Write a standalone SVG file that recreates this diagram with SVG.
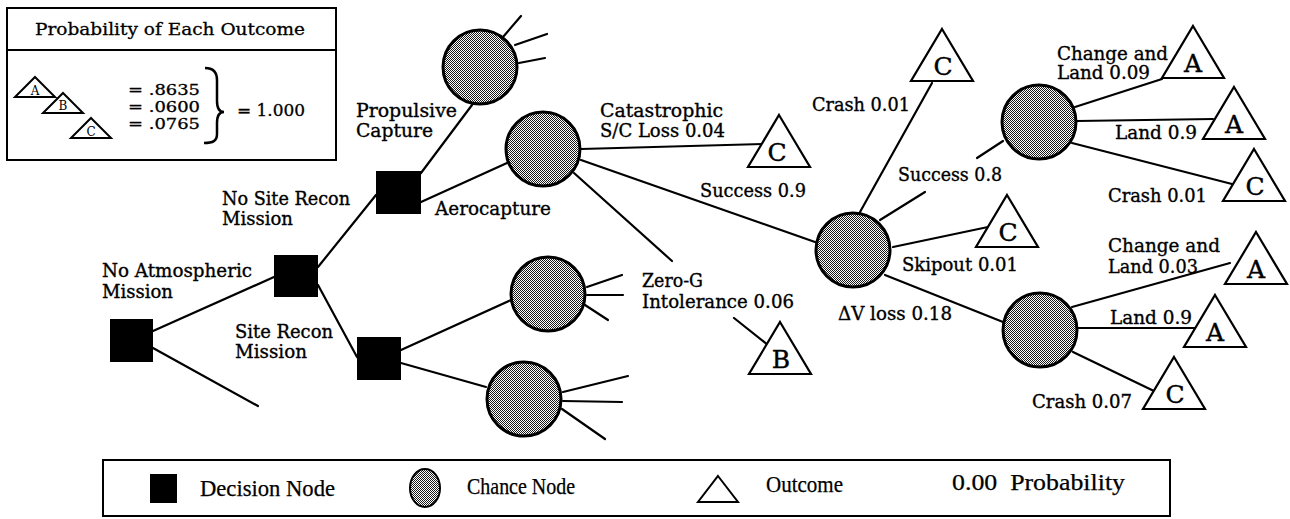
<svg xmlns="http://www.w3.org/2000/svg" width="1290" height="519" viewBox="0 0 1290 519">
  <defs>
    <pattern id="stipple" width="2" height="2" patternUnits="userSpaceOnUse">
      <rect width="2" height="2" fill="#fff"/>
      <rect width="1" height="1" fill="#1a1a1a"/>
      <rect x="1" y="1" width="1" height="1" fill="#1a1a1a"/>
    </pattern>
    <!-- outcome triangle, origin at apex -->
    <path id="tri" d="M0,0 L31,52 L-31,52 Z"/>
    <path id="minitri" d="M0,0 L20,20 L-20,20 Z"/>
  </defs>
  <style>
    .lbl { font-family: "DejaVu Serif", "Liberation Serif", serif; font-size: 18px; fill: #000; stroke: #000; stroke-width: 0.35; }
    .eq { font-family: "DejaVu Serif", "Liberation Serif", serif; font-size: 14.5px; fill: #000; stroke: #000; stroke-width: 0.3; }
    .ttl { font-family: "DejaVu Serif", "Liberation Serif", serif; font-size: 17px; fill: #000; stroke: #000; stroke-width: 0.3; }
    .key { font-family: "Liberation Serif", "DejaVu Serif", serif; font-size: 23px; fill: #000; stroke: #000; stroke-width: 0.25; }
    .tl { font-family: "DejaVu Serif", "Liberation Serif", serif; font-size: 25px; fill: #000; text-anchor: middle; stroke: #000; stroke-width: 0.4; }
    .mtl { font-family: "DejaVu Serif", "Liberation Serif", serif; font-size: 12px; fill: #000; text-anchor: middle; }
    .conn line { stroke: #000; stroke-width: 2.2; stroke-linecap: round; }
    .dec { fill: #000; }
    .chance { fill: url(#stipple); stroke: #000; stroke-width: 3; }
    .outcome { fill: #fff; stroke: #000; stroke-width: 2.2; stroke-linejoin: miter; }
    .box { fill: none; stroke: #000; stroke-width: 2; }
  </style>

  <rect width="1290" height="519" fill="#fff"/>

  <!-- probability summary box -->
  <g id="summary">
    <rect class="box" x="7" y="8" width="329" height="152"/>
    <line x1="7" y1="50" x2="336" y2="50" stroke="#000" stroke-width="2"/>
    <text class="ttl" x="170" y="35" text-anchor="middle" textLength="270" lengthAdjust="spacingAndGlyphs">Probability of Each Outcome</text>
    <use href="#minitri" x="35" y="77" class="outcome" style="stroke-width:2"/>
    <text class="mtl" x="35" y="95">A</text>
    <use href="#minitri" x="63" y="93" class="outcome" style="stroke-width:2"/>
    <text class="mtl" x="63" y="110">B</text>
    <use href="#minitri" x="91" y="118" class="outcome" style="stroke-width:2"/>
    <text class="mtl" x="91" y="136">C</text>
    <text class="eq" x="128" y="95" textLength="72" lengthAdjust="spacingAndGlyphs">= .8635</text>
    <text class="eq" x="128" y="112" textLength="72" lengthAdjust="spacingAndGlyphs">= .0600</text>
    <text class="eq" x="128" y="129" textLength="72" lengthAdjust="spacingAndGlyphs">= .0765</text>
    <path d="M205,68 C213,68 217,72 217,80 L217,101 C217,108 219,112 224,112 C219,112 217,116 217,123 L217,134 C217,141 213,143 204,143" fill="none" stroke="#000" stroke-width="2.5"/>
    <text class="eq" x="237" y="116" textLength="68" lengthAdjust="spacingAndGlyphs" style="font-size:16px">= 1.000</text>
  </g>

  <!-- branches -->
  <g id="connectors" class="conn">
    <line x1="153" y1="331" x2="274" y2="277"/>
    <line x1="153" y1="348" x2="258" y2="406"/>
    <line x1="318" y1="267" x2="376" y2="195"/>
    <line x1="318" y1="285" x2="357" y2="357"/>
    <line x1="421" y1="173" x2="472" y2="105"/>
    <line x1="503" y1="37" x2="521" y2="16"/>
    <line x1="515" y1="45" x2="547" y2="34"/>
    <line x1="519" y1="63" x2="545" y2="58"/>
    <line x1="421" y1="202" x2="507" y2="163"/>
    <line x1="581" y1="149" x2="763" y2="144"/>
    <line x1="581" y1="160" x2="815" y2="242"/>
    <line x1="574" y1="173" x2="672" y2="261"/>
    <line x1="734" y1="318" x2="768" y2="345"/>
    <line x1="401" y1="350" x2="511" y2="300"/>
    <line x1="587" y1="287" x2="622" y2="275"/>
    <line x1="587" y1="295" x2="623" y2="295"/>
    <line x1="585" y1="305" x2="608" y2="320"/>
    <line x1="401" y1="363" x2="486" y2="387"/>
    <line x1="563" y1="392" x2="628" y2="376"/>
    <line x1="563" y1="401" x2="622" y2="402"/>
    <line x1="562" y1="409" x2="605" y2="439"/>
    <line x1="860" y1="212" x2="932" y2="83"/>
    <line x1="880" y1="220" x2="925" y2="192"/>
    <line x1="977" y1="158" x2="1003" y2="141"/>
    <line x1="1075" y1="107" x2="1162" y2="79"/>
    <line x1="1077" y1="121" x2="1213" y2="119"/>
    <line x1="1072" y1="143" x2="1232" y2="184"/>
    <line x1="893" y1="247" x2="988" y2="227"/>
    <line x1="885" y1="275" x2="1003" y2="322"/>
    <line x1="1072" y1="307" x2="1230" y2="263"/>
    <line x1="1078" y1="328" x2="1195" y2="328"/>
    <line x1="1073" y1="352" x2="1156" y2="392"/>
  </g>

  <!-- decision nodes -->
  <g id="decision-atmospheric"><rect class="dec" x="110" y="319" width="43" height="43"/></g>
  <g id="decision-recon"><rect class="dec" x="274" y="255" width="44" height="42"/></g>
  <g id="decision-capture"><rect class="dec" x="376" y="171" width="45" height="43"/></g>
  <g id="decision-site-recon"><rect class="dec" x="357" y="337" width="44" height="43"/></g>

  <!-- chance nodes -->
  <g id="chance-propulsive"><circle class="chance" cx="480" cy="67" r="37"/></g>
  <g id="chance-aerocapture"><circle class="chance" cx="543" cy="149" r="37"/></g>
  <g id="chance-site-a"><circle class="chance" cx="548" cy="294" r="37"/></g>
  <g id="chance-site-b"><circle class="chance" cx="524" cy="399" r="37"/></g>
  <g id="chance-entry"><circle class="chance" cx="853" cy="250" r="37"/></g>
  <g id="chance-success"><circle class="chance" cx="1039" cy="122" r="37"/></g>
  <g id="chance-dv-loss"><circle class="chance" cx="1040" cy="330" r="37"/></g>

  <!-- outcome nodes -->
  <g id="outcome-catastrophic"><use href="#tri" x="779" y="115" class="outcome"/><text class="tl" x="777" y="161">C</text></g>
  <g id="outcome-zero-g"><use href="#tri" x="780" y="322" class="outcome"/><text class="tl" x="781" y="368">B</text></g>
  <g id="outcome-crash-top"><use href="#tri" x="942" y="29" class="outcome"/><text class="tl" x="943" y="75">C</text></g>
  <g id="outcome-skipout"><use href="#tri" x="1007" y="195" class="outcome"/><text class="tl" x="1008" y="241">C</text></g>
  <g id="outcome-change-1"><use href="#tri" x="1193" y="26" class="outcome"/><text class="tl" x="1193" y="72">A</text></g>
  <g id="outcome-land-1"><use href="#tri" x="1234" y="87" class="outcome"/><text class="tl" x="1234" y="133">A</text></g>
  <g id="outcome-crash-1"><use href="#tri" x="1254" y="149" class="outcome"/><text class="tl" x="1255" y="195">C</text></g>
  <g id="outcome-change-2"><use href="#tri" x="1256" y="232" class="outcome"/><text class="tl" x="1256" y="278">A</text></g>
  <g id="outcome-land-2"><use href="#tri" x="1215" y="295" class="outcome"/><text class="tl" x="1215" y="341">A</text></g>
  <g id="outcome-crash-2"><use href="#tri" x="1174" y="357" class="outcome"/><text class="tl" x="1175" y="403">C</text></g>

  <!-- branch labels -->
  <g id="labels">
    <text class="lbl" x="102" y="277" textLength="150" lengthAdjust="spacingAndGlyphs">No Atmospheric</text>
    <text class="lbl" x="102" y="298" textLength="71" lengthAdjust="spacingAndGlyphs">Mission</text>
    <text class="lbl" x="222" y="205" textLength="128" lengthAdjust="spacingAndGlyphs">No Site Recon</text>
    <text class="lbl" x="222" y="225" textLength="71" lengthAdjust="spacingAndGlyphs">Mission</text>
    <text class="lbl" x="235" y="338" textLength="98" lengthAdjust="spacingAndGlyphs">Site Recon</text>
    <text class="lbl" x="235" y="358" textLength="72" lengthAdjust="spacingAndGlyphs">Mission</text>
    <text class="lbl" x="356" y="117" textLength="101" lengthAdjust="spacingAndGlyphs">Propulsive</text>
    <text class="lbl" x="356" y="137" textLength="77" lengthAdjust="spacingAndGlyphs">Capture</text>
    <text class="lbl" x="435" y="215" textLength="116" lengthAdjust="spacingAndGlyphs">Aerocapture</text>
    <text class="lbl" x="600" y="117" textLength="123" lengthAdjust="spacingAndGlyphs">Catastrophic</text>
    <text class="lbl" x="600" y="137" textLength="125" lengthAdjust="spacingAndGlyphs">S/C Loss 0.04</text>
    <text class="lbl" x="700" y="197" textLength="106" lengthAdjust="spacingAndGlyphs">Success 0.9</text>
    <text class="lbl" x="642" y="287" textLength="61" lengthAdjust="spacingAndGlyphs">Zero-G</text>
    <text class="lbl" x="642" y="308" textLength="152" lengthAdjust="spacingAndGlyphs">Intolerance 0.06</text>
    <text class="lbl" x="812" y="111" textLength="98" lengthAdjust="spacingAndGlyphs">Crash 0.01</text>
    <text class="lbl" x="898" y="181" textLength="104" lengthAdjust="spacingAndGlyphs">Success 0.8</text>
    <text class="lbl" x="1057" y="60" textLength="111" lengthAdjust="spacingAndGlyphs">Change and</text>
    <text class="lbl" x="1057" y="79" textLength="93" lengthAdjust="spacingAndGlyphs">Land 0.09</text>
    <text class="lbl" x="1115" y="139" textLength="82" lengthAdjust="spacingAndGlyphs">Land 0.9</text>
    <text class="lbl" x="1108" y="202" textLength="99" lengthAdjust="spacingAndGlyphs">Crash 0.01</text>
    <text class="lbl" x="902" y="271" textLength="116" lengthAdjust="spacingAndGlyphs">Skipout 0.01</text>
    <text class="lbl" x="838" y="320" textLength="114" lengthAdjust="spacingAndGlyphs">ΔV loss 0.18</text>
    <text class="lbl" x="1108" y="252" textLength="112" lengthAdjust="spacingAndGlyphs">Change and</text>
    <text class="lbl" x="1108" y="273" textLength="90" lengthAdjust="spacingAndGlyphs">Land 0.03</text>
    <text class="lbl" x="1110" y="324" textLength="82" lengthAdjust="spacingAndGlyphs">Land 0.9</text>
    <text class="lbl" x="1032" y="408" textLength="100" lengthAdjust="spacingAndGlyphs">Crash 0.07</text>
  </g>

  <!-- symbol key -->
  <g id="key">
    <rect class="box" x="103" y="460" width="1067" height="56"/>
    <rect class="dec" x="150" y="474" width="27" height="29"/>
    <text class="key" x="200" y="496" textLength="135" lengthAdjust="spacingAndGlyphs">Decision Node</text>
    <ellipse cx="425" cy="488" rx="15" ry="19" fill="url(#stipple)" stroke="#000" stroke-width="2"/>
    <text class="key" x="467" y="494" textLength="108" lengthAdjust="spacingAndGlyphs">Chance Node</text>
    <path d="M718,476 L738,502 L698,502 Z" class="outcome" style="stroke-width:2"/>
    <text class="key" x="766" y="492" textLength="77" lengthAdjust="spacingAndGlyphs">Outcome</text>
    <text class="key" x="952" y="490" textLength="173" lengthAdjust="spacingAndGlyphs" xml:space="preserve">0.00  Probability</text>
  </g>
</svg>
